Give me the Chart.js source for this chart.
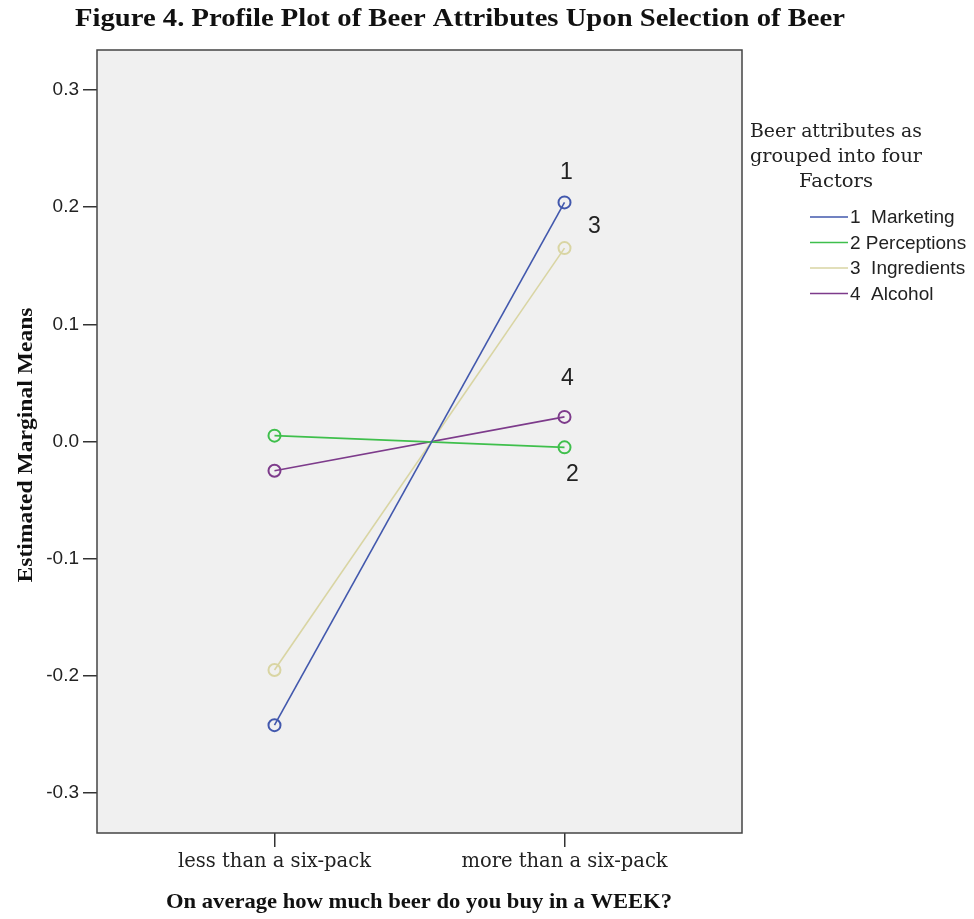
<!DOCTYPE html>
<html>
<head>
<meta charset="utf-8">
<script src="https://cdn.jsdelivr.net/npm/chart.js@4"></script>
<style>
  body { margin: 0; background: #fff; }
  canvas { display: block; }
</style>
</head>
<body>
<canvas id="chart" width="974" height="919"></canvas>
<script>
const categories = ["less than a six-pack", "more than a six-pack"];
const factorNames = ["1  Marketing", "2 Perceptions", "3  Ingredients", "4  Alcohol"];
const factorTags = ["1", "2", "3", "4"];
const marketing = [-0.242, 0.204];
const perceptions = [0.005, -0.005];
const ingredients = [-0.195, 0.165];
const alcohol = [-0.025, 0.021];
const yTicks = [-0.3, -0.2, -0.1, 0.0, 0.1, 0.2, 0.3];

const colors = ["#4258ad", "#3fbf4c", "#d9d5a3", "#7d3b8b"];
// where the number tags sit next to the right-hand point, in px
const tagOffsets = [[2, -30], [8, 27], [30, -21], [3, -38]];

const serif = "'Liberation Serif', 'DejaVu Serif', serif";
const wideSerif = "'DejaVu Serif', serif";
const sans = "'Liberation Sans', Arial, sans-serif";

function makeSet(label, values, color) {
    return {
        label: label,
        data: values.map((v, i) => ({ x: i, y: v })),
        borderColor: color,
        borderWidth: 1.6,
        pointRadius: 6,
        pointBorderWidth: 2,
        pointBorderColor: color,
        pointBackgroundColor: "rgba(0,0,0,0)",
        fill: false,
    };
}

// draws text squeezed or stretched to a given width
function fitText(ctx, text, x, y, w, angle) {
    const m = ctx.measureText(text).width;
    ctx.save();
    ctx.translate(x, y);
    if (angle) ctx.rotate(angle);
    ctx.scale(w / m, 1);
    ctx.fillText(text, 0, 0);
    ctx.restore();
}

const plotBox = {
    id: "plotBox",
    beforeDatasetsDraw(chart) {
        const a = chart.chartArea;
        const ctx = chart.ctx;
        ctx.save();
        ctx.fillStyle = "#f0f0f0";
        ctx.fillRect(a.left, a.top, a.right - a.left, a.bottom - a.top);
        ctx.restore();
    },
    afterDatasetsDraw(chart) {
        const a = chart.chartArea;
        const ctx = chart.ctx;
        ctx.save();
        ctx.strokeStyle = "#444";
        ctx.lineWidth = 1.5;
        ctx.strokeRect(a.left, a.top, a.right - a.left, a.bottom - a.top);

        // number tags at the right-hand ends
        ctx.fillStyle = "#222";
        ctx.font = "23px " + sans;
        ctx.textAlign = "center";
        ctx.textBaseline = "middle";
        chart.data.datasets.forEach((ds, i) => {
            const pt = chart.getDatasetMeta(i).data[1];
            ctx.fillText(factorTags[i], pt.x + tagOffsets[i][0], pt.y + tagOffsets[i][1]);
        });

        // title and axis titles
        ctx.fillStyle = "#111";
        ctx.font = "bold 26px " + serif;
        fitText(ctx, "Figure 4. Profile Plot of Beer Attributes Upon Selection of Beer", 460, 19, 770);
        ctx.font = "bold 21px " + serif;
        fitText(ctx, "Estimated Marginal Means", 27, 445, 275, -Math.PI / 2);
        ctx.font = "bold 21px " + serif;
        fitText(ctx, "On average how much beer do you buy in a WEEK?", 419, 903, 506);

        // legend
        ctx.font = "18px " + wideSerif;
        ctx.textAlign = "left";
        ctx.fillStyle = "#222";
        fitText(ctx, "Beer attributes as", 750, 132, 172);
        fitText(ctx, "grouped into four", 750, 157, 172);
        fitText(ctx, "Factors", 799, 182, 74);

        ctx.font = "19px " + sans;
        chart.data.datasets.forEach((ds, i) => {
            const y = 217 + i * 25.5;
            ctx.strokeStyle = ds.borderColor;
            ctx.lineWidth = 1.6;
            ctx.beginPath();
            ctx.moveTo(810, y);
            ctx.lineTo(848, y);
            ctx.stroke();
            ctx.fillText(ds.label, 850, y + 1);
        });
        ctx.restore();
    }
};

new Chart(document.getElementById("chart"), {
    type: "line",
    data: {
        datasets: [
            makeSet(factorNames[0], marketing, colors[0]),
            makeSet(factorNames[1], perceptions, colors[1]),
            makeSet(factorNames[2], ingredients, colors[2]),
            makeSet(factorNames[3], alcohol, colors[3]),
        ]
    },
    options: {
        responsive: false,
        animation: false,
        layout: { padding: { top: 50, right: 232, left: 0, bottom: 0 } },
        plugins: {
            legend: { display: false },
            tooltip: { enabled: false },
        },
        scales: {
            x: {
                type: "linear",
                min: -0.612,
                max: 1.612,
                afterBuildTicks: scale => { scale.ticks = categories.map((c, i) => ({ value: i })); },
                afterFit: scale => { scale.height = 86; },
                grid: { drawOnChartArea: false, drawTicks: true, tickLength: 14, color: "#333", lineWidth: 1.5 },
                border: { display: false },
                ticks: {
                    callback: v => categories[v],
                    color: "#222",
                    padding: 3,
                    maxRotation: 0,
                    font: { family: wideSerif, size: 19.5 },
                },
            },
            y: {
                type: "linear",
                min: -0.334,
                max: 0.334,
                afterBuildTicks: scale => { scale.ticks = yTicks.map(v => ({ value: v })); },
                afterFit: scale => { scale.width = 97; },
                grid: { drawOnChartArea: false, drawTicks: true, tickLength: 14, color: "#333", lineWidth: 1.5 },
                border: { display: false },
                ticks: {
                    callback: v => v.toFixed(1),
                    color: "#222",
                    padding: 4,
                    font: { family: sans, size: 19 },
                },
            },
        },
    },
    plugins: [plotBox],
});
</script>
</body>
</html>
